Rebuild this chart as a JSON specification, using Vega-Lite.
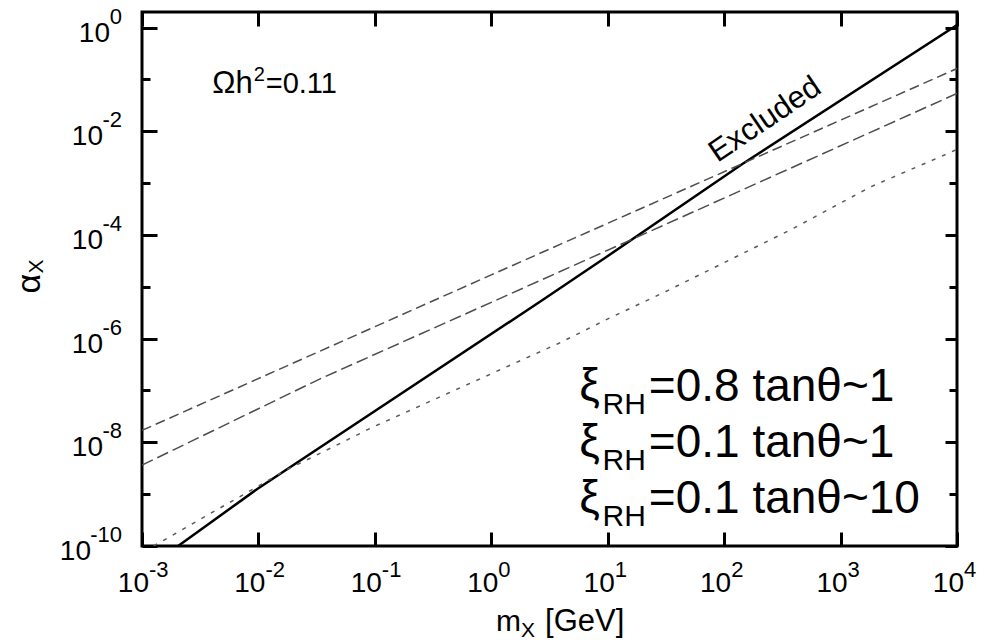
{
  "$schema": "https://vega.github.io/schema/vega-lite/v6.json",
  "width": 815,
  "height": 534,
  "autosize": {"type": "none"},
  "padding": {"left": 142, "top": 12, "right": 39, "bottom": 96},
  "background": "white",
  "config": {"view": {"stroke": "black", "strokeWidth": 3}, "font": "Liberation Sans", "text": {"font": "Liberation Sans", "color": "black"}},
  "datasets": {
    "curves": [
      {"s": "solid", "m": 0.002042, "a": 1e-10},
      {"s": "solid", "m": 0.009772, "a": 1.259e-9},
      {"s": "solid", "m": 2.818, "a": 5.754e-6},
      {"s": "solid", "m": 9.66, "a": 3.715e-5},
      {"s": "solid", "m": 141.3, "a": 2.291e-3},
      {"s": "solid", "m": 10000, "a": 1.122},
      {"s": "d08", "m": 0.001, "a": 1.698e-8},
      {"s": "d08", "m": 1, "a": 1.698e-5},
      {"s": "d08", "m": 10000, "a": 0.1622},
      {"s": "d01", "m": 0.001, "a": 3.631e-9},
      {"s": "d01", "m": 0.0335, "a": 1.66e-7},
      {"s": "d01", "m": 1, "a": 5.01e-6},
      {"s": "d01", "m": 60.26, "a": 3.09e-4},
      {"s": "d01", "m": 10000, "a": 0.0537},
      {"s": "d10", "m": 0.001259, "a": 1e-10},
      {"s": "d10", "m": 0.0175, "a": 2.95e-9},
      {"s": "d10", "m": 0.0955, "a": 1.95e-8},
      {"s": "d10", "m": 3.802, "a": 8.13e-7},
      {"s": "d10", "m": 10.23, "a": 2.455e-6},
      {"s": "d10", "m": 31.62, "a": 8.13e-6},
      {"s": "d10", "m": 380.2, "a": 1.288e-4},
      {"s": "d10", "m": 1820, "a": 8.51e-4},
      {"s": "d10", "m": 8318, "a": 3.715e-3},
      {"s": "d10", "m": 10000, "a": 4.47e-3}
    ],
    "xticks": [
      {"v": 0.001, "base": "10", "exp": "-3"},
      {"v": 0.01, "base": "10", "exp": "-2"},
      {"v": 0.1, "base": "10", "exp": "-1"},
      {"v": 1, "base": "10", "exp": "0"},
      {"v": 10, "base": "10", "exp": "1"},
      {"v": 100, "base": "10", "exp": "2"},
      {"v": 1000, "base": "10", "exp": "3"},
      {"v": 10000, "base": "10", "exp": "4"}
    ],
    "yticks": [
      {"v": 1, "base": "10", "exp": "0"},
      {"v": 0.01, "base": "10", "exp": "-2"},
      {"v": 1e-4, "base": "10", "exp": "-4"},
      {"v": 1e-6, "base": "10", "exp": "-6"},
      {"v": 1e-8, "base": "10", "exp": "-8"},
      {"v": 1e-10, "base": "10", "exp": "-10"}
    ],
    "omega": [{"m": 0.00893, "a": 0.054, "pre": "Ωh", "sup": "2", "post": "=0.11"}],
    "legend": [
      {"m": 22.54, "a": 6.38e-8, "pre": "ξ", "sub": "RH", "post": "=0.8 tanθ~1"},
      {"m": 22.54, "a": 5.19e-9, "pre": "ξ", "sub": "RH", "post": "=0.1 tanθ~1"},
      {"m": 22.54, "a": 4.28e-10, "pre": "ξ", "sub": "RH", "post": "=0.1 tanθ~10"}
    ],
    "excluded": [{"m": 87.5, "a": 2.44e-3, "t": "Excluded"}],
    "xtitle": [{"m": 1.803, "a": 1e-10, "pre": "m", "sub": "X", "post": "[GeV]"}],
    "ytitle": [{"m": 0.001, "a": 7.41e-6, "pre": "α", "sub": "X"}]
  },
  "layer": [
    {
      "data": {"name": "curves"},
      "transform": [{"filter": "datum.s == 'solid'"}],
      "mark": {"type": "line", "color": "black", "strokeWidth": 2.5, "clip": true},
      "encoding": {
        "x": {"field": "m", "type": "quantitative", "scale": {"type": "log", "domain": [0.001, 10000], "nice": false},
          "axis": {"orient": "bottom", "values": [0.001, 0.01, 0.1, 1, 10, 100, 1000, 10000], "domain": false, "grid": false, "title": null, "labels": false,
            "tickColor": "black", "tickWidth": 3, "tickSize": -14}},
        "y": {"field": "a", "type": "quantitative", "scale": {"type": "log", "domain": [1e-10, 2], "nice": false},
          "axis": {"orient": "left", "values": [1e-10, 1e-9, 1e-8, 1e-7, 1e-6, 1e-5, 1e-4, 1e-3, 1e-2, 1e-1, 1], "domain": false, "grid": false, "title": null, "labels": false,
            "tickColor": "black", "tickWidth": 3,
            "tickSize": {"condition": {"test": "round(log(datum.value)/LN10) % 2 == 0", "value": -15}, "value": -8}}}
      }
    },
    {
      "data": {"name": "curves"},
      "transform": [{"filter": "datum.s == 'd08'"}],
      "mark": {"type": "line", "color": "#4d4d4d", "strokeWidth": 1.5, "strokeDash": [10, 5], "clip": true},
      "encoding": {
        "x": {"field": "m", "type": "quantitative", "scale": {"type": "log", "domain": [0.001, 10000], "nice": false},
          "axis": {"orient": "top", "values": [0.001, 0.01, 0.1, 1, 10, 100, 1000, 10000], "domain": false, "grid": false, "title": null, "labels": false,
            "tickColor": "black", "tickWidth": 3, "tickSize": -14}},
        "y": {"field": "a", "type": "quantitative", "scale": {"type": "log", "domain": [1e-10, 2], "nice": false},
          "axis": {"orient": "right", "values": [1e-10, 1e-9, 1e-8, 1e-7, 1e-6, 1e-5, 1e-4, 1e-3, 1e-2, 1e-1, 1], "domain": false, "grid": false, "title": null, "labels": false,
            "tickColor": "black", "tickWidth": 3,
            "tickSize": {"condition": {"test": "round(log(datum.value)/LN10) % 2 == 0", "value": -12}, "value": -8}}}
      }
    },
    {
      "data": {"name": "curves"},
      "transform": [{"filter": "datum.s == 'd01'"}],
      "mark": {"type": "line", "color": "#4d4d4d", "strokeWidth": 1.5, "strokeDash": [12, 5], "clip": true},
      "encoding": {
        "x": {"field": "m", "type": "quantitative", "scale": {"type": "log", "domain": [0.001, 10000], "nice": false}, "axis": null},
        "y": {"field": "a", "type": "quantitative", "scale": {"type": "log", "domain": [1e-10, 2], "nice": false}, "axis": null}
      }
    },
    {
      "data": {"name": "curves"},
      "transform": [{"filter": "datum.s == 'd10'"}],
      "mark": {"type": "line", "color": "#5a5a5a", "strokeWidth": 1.5, "strokeDash": [4, 7], "clip": true},
      "encoding": {
        "x": {"field": "m", "type": "quantitative", "scale": {"type": "log", "domain": [0.001, 10000], "nice": false}, "axis": null},
        "y": {"field": "a", "type": "quantitative", "scale": {"type": "log", "domain": [1e-10, 2], "nice": false}, "axis": null}
      }
    },
    {
      "data": {"name": "xticks"},
      "mark": {"type": "text", "align": "right", "baseline": "alphabetic", "fontSize": 28, "dx": 7, "dy": 46},
      "encoding": {
        "x": {"field": "v", "type": "quantitative", "scale": {"type": "log", "domain": [0.001, 10000], "nice": false}, "axis": null},
        "y": {"datum": 1e-10, "type": "quantitative", "scale": {"type": "log", "domain": [1e-10, 2], "nice": false}, "axis": null},
        "text": {"field": "base"}
      }
    },
    {
      "data": {"name": "xticks"},
      "mark": {"type": "text", "align": "left", "baseline": "alphabetic", "fontSize": 22, "dx": 7, "dy": 31},
      "encoding": {
        "x": {"field": "v", "type": "quantitative", "scale": {"type": "log", "domain": [0.001, 10000], "nice": false}, "axis": null},
        "y": {"datum": 1e-10, "type": "quantitative", "scale": {"type": "log", "domain": [1e-10, 2], "nice": false}, "axis": null},
        "text": {"field": "exp"}
      }
    },
    {
      "data": {"name": "yticks"},
      "mark": {"type": "text", "align": "right", "baseline": "alphabetic", "fontSize": 22, "dx": -20, "dy": -4},
      "encoding": {
        "x": {"datum": 0.001, "type": "quantitative", "scale": {"type": "log", "domain": [0.001, 10000], "nice": false}, "axis": null},
        "y": {"field": "v", "type": "quantitative", "scale": {"type": "log", "domain": [1e-10, 2], "nice": false}, "axis": null},
        "text": {"field": "exp"}
      }
    },
    {
      "data": {"name": "yticks"},
      "transform": [{"filter": "length(datum.exp) == 1"}],
      "mark": {"type": "text", "align": "right", "baseline": "alphabetic", "fontSize": 28, "dx": -32, "dy": 14},
      "encoding": {
        "x": {"datum": 0.001, "type": "quantitative", "scale": {"type": "log", "domain": [0.001, 10000], "nice": false}, "axis": null},
        "y": {"field": "v", "type": "quantitative", "scale": {"type": "log", "domain": [1e-10, 2], "nice": false}, "axis": null},
        "text": {"field": "base"}
      }
    },
    {
      "data": {"name": "yticks"},
      "transform": [{"filter": "length(datum.exp) == 2"}],
      "mark": {"type": "text", "align": "right", "baseline": "alphabetic", "fontSize": 28, "dx": -39, "dy": 14},
      "encoding": {
        "x": {"datum": 0.001, "type": "quantitative", "scale": {"type": "log", "domain": [0.001, 10000], "nice": false}, "axis": null},
        "y": {"field": "v", "type": "quantitative", "scale": {"type": "log", "domain": [1e-10, 2], "nice": false}, "axis": null},
        "text": {"field": "base"}
      }
    },
    {
      "data": {"name": "yticks"},
      "transform": [{"filter": "length(datum.exp) == 3"}],
      "mark": {"type": "text", "align": "right", "baseline": "alphabetic", "fontSize": 28, "dx": -51, "dy": 14},
      "encoding": {
        "x": {"datum": 0.001, "type": "quantitative", "scale": {"type": "log", "domain": [0.001, 10000], "nice": false}, "axis": null},
        "y": {"field": "v", "type": "quantitative", "scale": {"type": "log", "domain": [1e-10, 2], "nice": false}, "axis": null},
        "text": {"field": "base"}
      }
    },
    {
      "data": {"name": "omega"},
      "mark": {"type": "text", "align": "right", "baseline": "alphabetic", "fontSize": 31},
      "encoding": {
        "x": {"field": "m", "type": "quantitative", "scale": {"type": "log", "domain": [0.001, 10000], "nice": false}, "axis": null},
        "y": {"field": "a", "type": "quantitative", "scale": {"type": "log", "domain": [1e-10, 2], "nice": false}, "axis": null},
        "text": {"field": "pre"}
      }
    },
    {
      "data": {"name": "omega"},
      "mark": {"type": "text", "align": "left", "baseline": "alphabetic", "fontSize": 20, "dx": 1, "dy": -12},
      "encoding": {
        "x": {"field": "m", "type": "quantitative", "scale": {"type": "log", "domain": [0.001, 10000], "nice": false}, "axis": null},
        "y": {"field": "a", "type": "quantitative", "scale": {"type": "log", "domain": [1e-10, 2], "nice": false}, "axis": null},
        "text": {"field": "sup"}
      }
    },
    {
      "data": {"name": "omega"},
      "mark": {"type": "text", "align": "left", "baseline": "alphabetic", "fontSize": 29, "dx": 13},
      "encoding": {
        "x": {"field": "m", "type": "quantitative", "scale": {"type": "log", "domain": [0.001, 10000], "nice": false}, "axis": null},
        "y": {"field": "a", "type": "quantitative", "scale": {"type": "log", "domain": [1e-10, 2], "nice": false}, "axis": null},
        "text": {"field": "post"}
      }
    },
    {
      "data": {"name": "legend"},
      "mark": {"type": "text", "align": "right", "baseline": "alphabetic", "fontSize": 46, "dx": -49},
      "encoding": {
        "x": {"field": "m", "type": "quantitative", "scale": {"type": "log", "domain": [0.001, 10000], "nice": false}, "axis": null},
        "y": {"field": "a", "type": "quantitative", "scale": {"type": "log", "domain": [1e-10, 2], "nice": false}, "axis": null},
        "text": {"field": "pre"}
      }
    },
    {
      "data": {"name": "legend"},
      "mark": {"type": "text", "align": "right", "baseline": "alphabetic", "fontSize": 30, "dx": -3, "dy": 13},
      "encoding": {
        "x": {"field": "m", "type": "quantitative", "scale": {"type": "log", "domain": [0.001, 10000], "nice": false}, "axis": null},
        "y": {"field": "a", "type": "quantitative", "scale": {"type": "log", "domain": [1e-10, 2], "nice": false}, "axis": null},
        "text": {"field": "sub"}
      }
    },
    {
      "data": {"name": "legend"},
      "mark": {"type": "text", "align": "left", "baseline": "alphabetic", "fontSize": 46},
      "encoding": {
        "x": {"field": "m", "type": "quantitative", "scale": {"type": "log", "domain": [0.001, 10000], "nice": false}, "axis": null},
        "y": {"field": "a", "type": "quantitative", "scale": {"type": "log", "domain": [1e-10, 2], "nice": false}, "axis": null},
        "text": {"field": "post"}
      }
    },
    {
      "data": {"name": "excluded"},
      "mark": {"type": "text", "align": "left", "baseline": "alphabetic", "fontSize": 31, "angle": 326},
      "encoding": {
        "x": {"field": "m", "type": "quantitative", "scale": {"type": "log", "domain": [0.001, 10000], "nice": false}, "axis": null},
        "y": {"field": "a", "type": "quantitative", "scale": {"type": "log", "domain": [1e-10, 2], "nice": false}, "axis": null},
        "text": {"field": "t"}
      }
    },
    {
      "data": {"name": "xtitle"},
      "mark": {"type": "text", "align": "right", "baseline": "alphabetic", "fontSize": 30, "dy": 85},
      "encoding": {
        "x": {"field": "m", "type": "quantitative", "scale": {"type": "log", "domain": [0.001, 10000], "nice": false}, "axis": null},
        "y": {"field": "a", "type": "quantitative", "scale": {"type": "log", "domain": [1e-10, 2], "nice": false}, "axis": null},
        "text": {"field": "pre"}
      }
    },
    {
      "data": {"name": "xtitle"},
      "mark": {"type": "text", "align": "left", "baseline": "alphabetic", "fontSize": 21, "dy": 91},
      "encoding": {
        "x": {"field": "m", "type": "quantitative", "scale": {"type": "log", "domain": [0.001, 10000], "nice": false}, "axis": null},
        "y": {"field": "a", "type": "quantitative", "scale": {"type": "log", "domain": [1e-10, 2], "nice": false}, "axis": null},
        "text": {"field": "sub"}
      }
    },
    {
      "data": {"name": "xtitle"},
      "mark": {"type": "text", "align": "left", "baseline": "alphabetic", "fontSize": 31, "dx": 24, "dy": 85},
      "encoding": {
        "x": {"field": "m", "type": "quantitative", "scale": {"type": "log", "domain": [0.001, 10000], "nice": false}, "axis": null},
        "y": {"field": "a", "type": "quantitative", "scale": {"type": "log", "domain": [1e-10, 2], "nice": false}, "axis": null},
        "text": {"field": "post"}
      }
    },
    {
      "data": {"name": "ytitle"},
      "mark": {"type": "text", "align": "left", "baseline": "alphabetic", "fontSize": 34, "angle": 270, "dy": -102},
      "encoding": {
        "x": {"field": "m", "type": "quantitative", "scale": {"type": "log", "domain": [0.001, 10000], "nice": false}, "axis": null},
        "y": {"field": "a", "type": "quantitative", "scale": {"type": "log", "domain": [1e-10, 2], "nice": false}, "axis": null},
        "text": {"field": "pre"}
      }
    },
    {
      "data": {"name": "ytitle"},
      "mark": {"type": "text", "align": "left", "baseline": "alphabetic", "fontSize": 21, "angle": 270, "dx": 20, "dy": -99},
      "encoding": {
        "x": {"field": "m", "type": "quantitative", "scale": {"type": "log", "domain": [0.001, 10000], "nice": false}, "axis": null},
        "y": {"field": "a", "type": "quantitative", "scale": {"type": "log", "domain": [1e-10, 2], "nice": false}, "axis": null},
        "text": {"field": "sub"}
      }
    }
  ],
  "resolve": {"axis": {"x": "independent", "y": "independent"}}
}
